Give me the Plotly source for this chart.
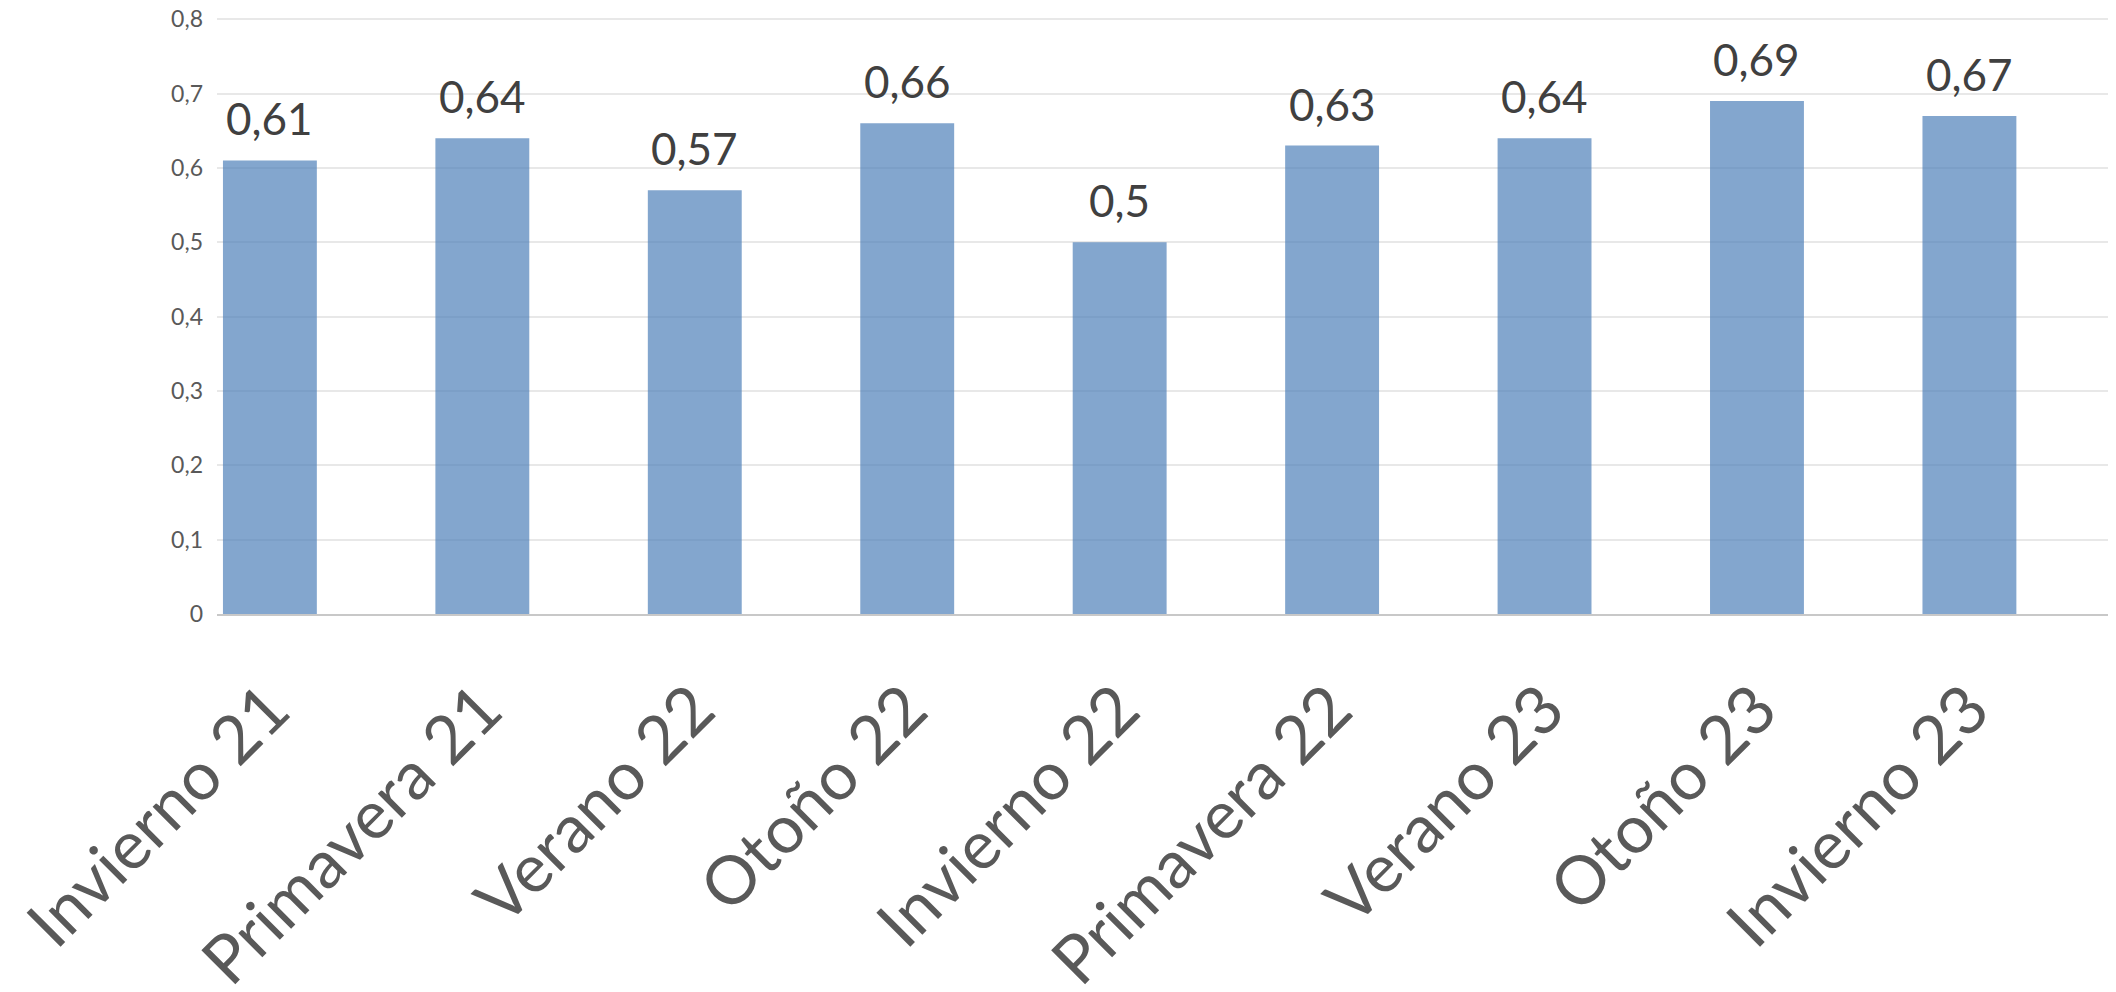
import plotly.graph_objects as go

categories = ["Invierno 21", "Primavera 21", "Verano 22", "Otoño 22", "Invierno 22",
              "Primavera 22", "Verano 23", "Otoño 23", "Invierno 23"]
values = [0.61, 0.64, 0.57, 0.66, 0.50, 0.63, 0.64, 0.69, 0.67]
y_ticks = [0, 0.1, 0.2, 0.3, 0.4, 0.5, 0.6, 0.7, 0.8]

FONT = "Lato"

fig = go.Figure()
fig.add_trace(go.Bar(
    x=list(range(len(categories))),
    y=values,
    marker=dict(color="rgba(79,128,185,0.7)", line=dict(width=0)),
    width=0.442,
    hoverinfo="skip",
))

for i, v in enumerate(values):
    fig.add_annotation(
        x=i, y=v, text=f"{v:g}".replace(".", ","),
        showarrow=False, yanchor="bottom", xanchor="center", yshift=14,
        font=dict(family=FONT, size=44, color="#404040"),
    )

# page body has an 8px default margin, so the figure is 8px smaller
fig.update_layout(
    width=2108, height=984,
    margin=dict(l=209, r=0, t=9, b=378, autoexpand=False),
    paper_bgcolor="white", plot_bgcolor="white",
    separators=",.",
    showlegend=False,
    xaxis=dict(
        range=[-0.249, 8.69],
        tickmode="array",
        tickvals=list(range(len(categories))),
        ticktext=categories,
        tickangle=-45,
        tickfont=dict(family=FONT, size=67, color="#595959"),
        showgrid=False, zeroline=False,
        showline=True, linecolor="#C8C8C8", linewidth=2,
        ticks="", ticklabelstandoff=27,
        automargin=False, ticklabeloverflow="allow",
    ),
    yaxis=dict(
        range=[0, 0.803],
        tickmode="array",
        tickvals=y_ticks,
        tickfont=dict(family=FONT, size=23, color="#595959"),
        showgrid=True, gridcolor="#E8E8E8", gridwidth=1.5,
        zeroline=False, showline=False,
        ticks="", ticklabelstandoff=13,
        layer="below traces",
        automargin=False, ticklabeloverflow="allow",
    ),
)

fig.write_html("out.html")
